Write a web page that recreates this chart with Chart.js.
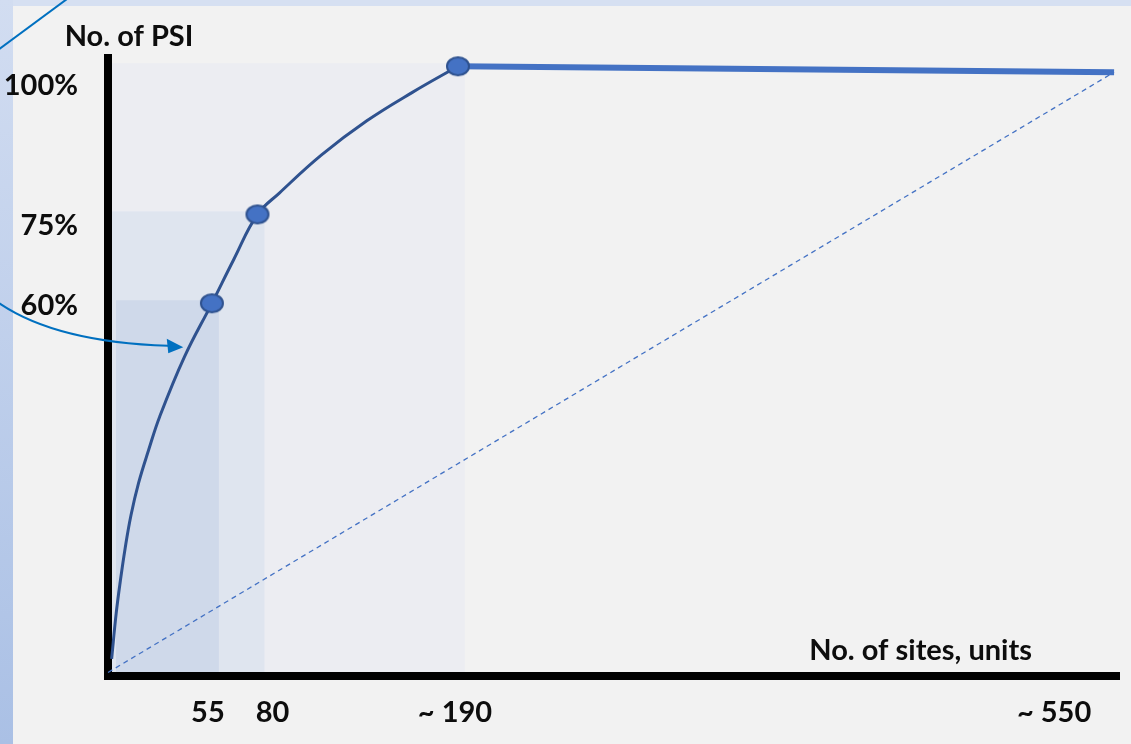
<!DOCTYPE html>
<html>
<head>
<meta charset="utf-8">
<script src="https://cdn.jsdelivr.net/npm/chart.js@4/dist/chart.umd.min.js"></script>
<style>
  html, body { margin: 0; padding: 0; width: 1131px; height: 744px; overflow: hidden; }
  body { position: relative; background: #d6e0f2; }
  #strip { position: absolute; left: 0; top: 0; width: 13px; height: 744px;
           background: linear-gradient(#d2ddf1, #aac0e5); }
  #panel { position: absolute; left: 13px; top: 6px; right: 0; bottom: 0; background: #f2f2f2; }
  #wrap  { position: absolute; left: 0; top: 0; width: 1131px; height: 744px; }
</style>
</head>
<body>
<div id="strip"></div>
<div id="panel"></div>
<div id="wrap"><canvas id="chart" width="1131" height="744"></canvas></div>
<script>
// ---- data -------------------------------------------------------------
// key thresholds on the concentration curve
const keySites = [55, 80, 190];
const keyPsi = [60, 75, 100];

// axis value labels
const siteTicks = [55, 80, 190, 550];
const siteTickLabels = ['55', '80', '~ 190', '~ 550'];
const psiTicks = [100, 75, 60];
const psiTickLabels = ['100%', '75%', '60%'];

// cumulative share of PSI (%) against number of sites
const curveSites = [0, 2.5, 4.75, 7.35, 10.55, 14.75, 20.2, 26.4, 40, 55, 67, 80, 92, 115, 140, 165, 190];
const curvePsi   = [0, 7.7, 13.1, 18.55, 24.15, 29.65, 35.15, 40.9, 51.0, 60, 67.4, 75, 78.6, 85.0, 90.8, 95.6, 100];

// plateau after all PSI are covered
const plateauSites = [190, 550];
const plateauPsi = [100, 99];

// uniform-distribution reference line
const diagonalSites = [-2, 550];
const diagonalPsi = [-2.3, 99];

// axis ranges
const siteRange = [-2, 552.7];
const psiRange = [-2.9, 101.4];

// ---- styling ----------------------------------------------------------
const FONT = 'bold 29px Lato, "Open Sans", sans-serif';
const TEXT = '#0d0d0d';
const bandFills = { 190: '#ecedf2', 80: '#dfe5ef', 55: '#cfd9ea' };
const siteLabelNudge = [-4, 15, -3, -60];
const psiLabelNudge = [29, 20.5, 12];
const AXIS_W = 8;

const pts = (xs, ys) => xs.map((x, i) => ({ x, y: ys[i] }));

// oval marker
const oval = document.createElement('canvas');
oval.width = 26; oval.height = 22;
(function () {
  const g = oval.getContext('2d');
  g.beginPath();
  g.ellipse(13, 11, 11, 9, 0, 0, Math.PI * 2);
  g.fillStyle = '#4472c4';
  g.fill();
  g.lineWidth = 2;
  g.strokeStyle = '#2f528f';
  g.stroke();
})();

// shaded areas from the origin up to each threshold
const bands = {
  id: 'bands',
  beforeDatasetsDraw(chart) {
    const { ctx, chartArea: a, scales: { x, y } } = chart;
    const left = a.left + AXIS_W / 2;
    const bottom = a.bottom - AXIS_W / 2;
    ctx.save();
    [...keySites].reverse().forEach((s) => {
      const i = keySites.indexOf(s);
      const right = x.getPixelForValue(s) + 7;
      const top = y.getPixelForValue(keyPsi[i]) - 3;
      const inset = s === keySites[0] ? 4 : 0;
      ctx.fillStyle = bandFills[s];
      ctx.fillRect(left + inset, top, right - left - inset, bottom - top);
    });
    ctx.restore();
  }
};

// axis labels, titles and callout connectors
const labels = {
  id: 'labels',
  afterDraw(chart) {
    const { ctx, chartArea: a, scales: { x, y } } = chart;
    ctx.save();
    ctx.font = FONT;
    ctx.fillStyle = TEXT;
    ctx.textBaseline = 'alphabetic';

    ctx.textAlign = 'center';
    siteTicks.forEach((v, i) => {
      ctx.fillText(siteTickLabels[i], x.getPixelForValue(v) + siteLabelNudge[i], a.bottom + 46);
    });
    ctx.textAlign = 'right';
    psiTicks.forEach((v, i) => {
      ctx.fillText(psiTickLabels[i], a.left - 30, y.getPixelForValue(v) + psiLabelNudge[i]);
    });

    ctx.textAlign = 'center';
    ctx.fillText('No. of PSI', a.left + 21, a.top - 12);
    ctx.textAlign = 'right';
    ctx.fillText('No. of sites, units', a.right - 87, a.bottom - 16);

    // callout connectors
    ctx.strokeStyle = '#0070c0';
    ctx.fillStyle = '#0070c0';
    ctx.lineWidth = 2;
    ctx.beginPath();
    ctx.moveTo(-2, 50);
    ctx.quadraticCurveTo(32, 25, 67, -1);
    ctx.stroke();

    const tipX = x.getPixelForValue(39.3);
    const tipY = y.getPixelForValue(51.9) - 4;
    ctx.beginPath();
    ctx.moveTo(-1, 303);
    ctx.quadraticCurveTo(56, 342, tipX - 15, tipY - 1.5);
    ctx.stroke();
    ctx.beginPath();
    ctx.moveTo(tipX, tipY);
    ctx.lineTo(tipX - 16.5, tipY - 8.5);
    ctx.lineTo(tipX - 15, tipY + 6);
    ctx.closePath();
    ctx.fill();
    ctx.restore();
  }
};

const axisBorder = { display: true, color: '#000', width: AXIS_W };

new Chart(document.getElementById('chart'), {
  type: 'scatter',
  data: {
    datasets: [
      {
        label: 'Thresholds',
        data: pts(keySites, keyPsi),
        pointStyle: oval,
        pointRadius: 11,
        showLine: false,
        clip: false,
        order: 0
      },
      {
        label: 'Cumulative PSI',
        data: pts(curveSites, curvePsi),
        showLine: true,
        borderColor: '#2f528f',
        borderWidth: 3,
        pointRadius: 0,
        tension: 0.4,
        clip: false,
        order: 1
      },
      {
        label: 'Plateau',
        data: pts(plateauSites, plateauPsi),
        showLine: true,
        borderColor: '#4472c4',
        borderWidth: 6,
        pointRadius: 0,
        clip: false,
        order: 2
      },
      {
        label: 'Uniform',
        data: pts(diagonalSites, diagonalPsi),
        showLine: true,
        borderColor: '#4472c4',
        borderWidth: 1.3,
        borderDash: [5, 4],
        pointRadius: 0,
        clip: false,
        order: 3
      }
    ]
  },
  options: {
    responsive: false,
    animation: false,
    events: [],
    layout: { padding: { left: 108, right: 10, top: 58, bottom: 68 } },
    plugins: { legend: { display: false }, tooltip: { enabled: false } },
    scales: {
      x: {
        type: 'linear', min: siteRange[0], max: siteRange[1],
        grid: { display: false }, border: axisBorder,
        ticks: { display: false },
        afterFit(s) { s.height = 0; }
      },
      y: {
        type: 'linear', min: psiRange[0], max: psiRange[1],
        grid: { display: false }, border: axisBorder,
        ticks: { display: false },
        afterFit(s) { s.width = 0; }
      }
    }
  },
  plugins: [bands, labels]
});
</script>
</body>
</html>
